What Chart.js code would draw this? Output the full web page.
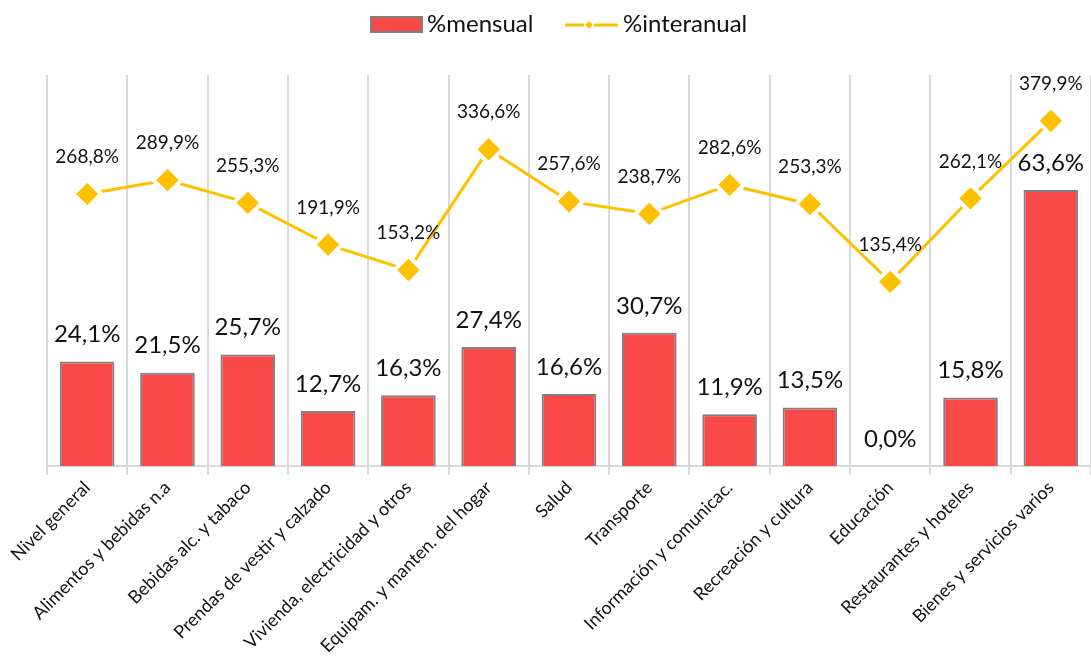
<!DOCTYPE html>
<html>
<head>
<meta charset="utf-8">
<script src="https://cdn.jsdelivr.net/npm/chart.js@4"></script>
<style>
html,body{margin:0;padding:0;background:#fff;overflow:hidden;}
#wrap{width:1091px;height:659px;position:relative;}
canvas{display:block;}
</style>
</head>
<body>
<div id="wrap"><canvas id="c" width="1091" height="659"></canvas></div>
<script>
const categories = ["Nivel general","Alimentos y bebidas n.a","Bebidas alc. y tabaco","Prendas de vestir y calzado","Vivienda, electricidad y otros","Equipam. y manten. del hogar","Salud","Transporte","Información y comunicac.","Recreación y cultura","Educación","Restaurantes y hoteles","Bienes y servicios varios"];
const mensual = [24.1, 21.5, 25.7, 12.7, 16.3, 27.4, 16.6, 30.7, 11.9, 13.5, 0.0, 15.8, 63.6];
const interanual = [268.8, 289.9, 255.3, 191.9, 153.2, 336.6, 257.6, 238.7, 282.6, 253.3, 135.4, 262.1, 379.9];
const seriesNames = ["%mensual", "%interanual"];

const FONT = "Lato, 'Open Sans', sans-serif";
const RED = "#F94848", GREY = "#808080", GOLD = "#FFC000";
const fmt = v => v.toFixed(1).replace('.', ',') + '%';

const labelsPlugin = {
  id: 'labels',
  afterDatasetsDraw(chart) {
    const ctx = chart.ctx;
    ctx.save();
    ctx.fillStyle = '#111';
    ctx.textAlign = 'center';
    ctx.textBaseline = 'middle';
    const barMeta = chart.getDatasetMeta(0);
    ctx.font = "24px " + FONT;
    barMeta.data.forEach((el, i) => {
      ctx.fillText(fmt(mensual[i]), el.x, el.y - 27);
    });
    const lineMeta = chart.getDatasetMeta(1);
    ctx.font = "19px " + FONT;
    lineMeta.data.forEach((el, i) => {
      ctx.fillText(fmt(interanual[i]), el.x, el.y - 37);
    });
    ctx.restore();
  },
  afterDraw(chart) {
    const ctx = chart.ctx;
    ctx.save();
    ctx.fillStyle = RED;
    ctx.strokeStyle = GREY;
    ctx.lineWidth = 2;
    ctx.fillRect(371, 17, 51, 15);
    ctx.strokeRect(371, 17, 51, 15);
    ctx.fillStyle = '#111';
    ctx.font = "24px " + FONT;
    ctx.textBaseline = 'middle';
    ctx.textAlign = 'left';
    ctx.fillText(seriesNames[0], 427, 24);
    ctx.strokeStyle = GOLD;
    ctx.lineWidth = 3;
    ctx.beginPath(); ctx.moveTo(565, 25); ctx.lineTo(584, 25); ctx.stroke();
    ctx.beginPath(); ctx.moveTo(594, 25); ctx.lineTo(618, 25); ctx.stroke();
    ctx.fillStyle = GOLD;
    ctx.beginPath();
    ctx.moveTo(589, 21); ctx.lineTo(593, 25); ctx.lineTo(589, 29); ctx.lineTo(585, 25); ctx.closePath(); ctx.fill();
    ctx.fillStyle = '#111';
    ctx.fillText(seriesNames[1], 623, 24);
    ctx.restore();
  }
};

new Chart(document.getElementById('c'), {
  data: {
    labels: categories,
    datasets: [
      {
        type: 'bar', label: seriesNames[0], data: mensual, yAxisID: 'y',
        backgroundColor: RED, borderColor: GREY, borderWidth: 2,
        categoryPercentage: 1, barPercentage: 0.68, order: 1
      },
      {
        type: 'line', label: seriesNames[1], data: interanual, yAxisID: 'y2',
        borderColor: GOLD, borderWidth: 3, tension: 0,
        pointStyle: 'rectRot', pointRadius: 14, pointBackgroundColor: GOLD,
        pointBorderColor: '#fff', pointBorderWidth: 4, order: 0, clip: false
      }
    ]
  },
  options: {
    responsive: false,
    animation: false,
    events: [],
    layout: { autoPadding: false, padding: { left: 47, right: 0, top: 75, bottom: 0 } },
    plugins: { legend: { display: false }, tooltip: { enabled: false } },
    scales: {
      x: {
        offset: true,
        grid: { offset: true, color: '#D9D9D9', lineWidth: 2, tickLength: 9, drawOnChartArea: true },
        border: { display: true, color: '#D9D9D9', width: 2 },
        ticks: { autoSkip: false, minRotation: 45, maxRotation: 45, padding: 2, color: '#111', font: { family: FONT, size: 18 } },
        afterFit(scale) { scale.height = 193; scale.paddingLeft = 0; scale.paddingRight = 0; }
      },
      y: { display: false, min: 0, max: 90.1 },
      y2: { display: false, min: -144.3, max: 449.5 }
    }
  },
  plugins: [labelsPlugin]
});
</script>
</body>
</html>
